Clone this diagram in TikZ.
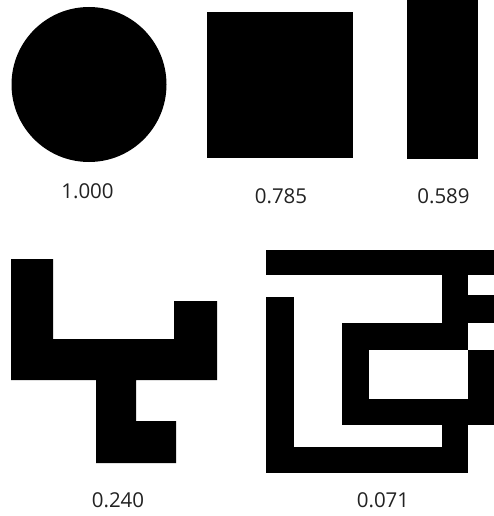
\documentclass[tikz,border=0pt]{standalone}
\usepackage{fontspec}
\setmainfont{Open Sans}
\definecolor{labelgray}{HTML}{222222}
\begin{document}
\begin{tikzpicture}[x=1pt,y=-1pt,
  blk/.style={fill=black},
  lbl/.style={text=labelgray,font=\fontsize{20.5}{24}\selectfont,inner sep=0pt,anchor=center}]
\useasboundingbox[fill=white] (0,0) rectangle (494,516);
% top row
\fill[blk] (89,84.5) circle (77.5);
\fill[blk] (206.7,11.7) rectangle (353.3,157.7);
\fill[blk] (407.3,0) rectangle (477.7,159);
\node[lbl] (l1) at (87.5,191) {1.000};
\node[lbl] (l2) at (281,196.5) {0.785};
\node[lbl] (l3) at (443.5,196.5) {0.589};
% bottom-left shape
\fill[blk] (11,259) -- (53,259) -- (53,339) -- (174,339) -- (174,301) -- (217,301)
  -- (217,380) -- (136,380) -- (136,421) -- (176,421) -- (176,463) -- (96,463)
  -- (96,380) -- (11,380) -- cycle;
% bottom-right shape
\fill[blk] (266,250) rectangle (494,275);
\fill[blk] (442,275) rectangle (468,350);
\fill[blk] (468,295) rectangle (494,323);
\fill[blk] (342,323) rectangle (468,350);
\fill[blk] (342,323) rectangle (369,425);
\fill[blk] (342,399) rectangle (494,425);
\fill[blk] (468,350) rectangle (494,425);
\fill[blk] (442,425) rectangle (468,473);
\fill[blk] (266,447) rectangle (468,473);
\fill[blk] (266,297) rectangle (294,473);
\node[lbl] (l4) at (118,500.5) {0.240};
\node[lbl] (l5) at (383,500.5) {0.071};
\end{tikzpicture}
\end{document}
